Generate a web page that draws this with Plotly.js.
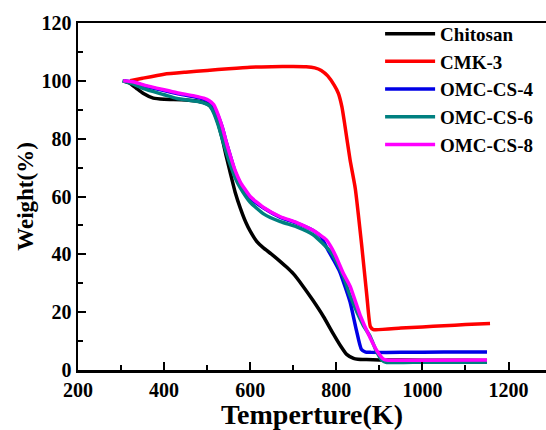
<!DOCTYPE html>
<html>
<head>
<meta charset="utf-8">
<script src="https://cdn.plot.ly/plotly-3.0.1.min.js"></script>
<style>
html,body{margin:0;padding:0;background:#fff;}
#chart{width:546px;height:430px;}
</style>
</head>
<body>
<div id="chart"></div>
<script>
// Temperature (K) and weight (%)
var chitosanT = [305,320,335,352,375,400,450,490,505,515,525,535,545,554,565,577,590,600,615,630,650,670,685,700,720,746,770,793,810,824,840,850,870,900,1000,1100,1150];
var chitosanW = [100,99.2,97.5,95.6,94.0,93.6,93.4,92.6,91.5,89.5,85.5,80,73.5,68,61.5,56,51,48,44.5,42.3,40,37.5,35.5,33.3,29.5,24,18.5,12.5,8.3,5.4,4.0,3.7,3.6,3.5,3.4,3.4,3.3];

var cmk3T = [321,350,400,450,500,550,600,650,700,730,750,765,780,795,805,813,820,832,844,859,871,879,886,950,1000,1050,1100,1157];
var cmk3W = [100,100.9,102.3,103.0,103.6,104.2,104.7,104.9,105,104.9,104.5,103.6,101.7,98.5,95.6,91,84.5,72.6,62.8,43,25.5,15,14,14.5,14.9,15.3,15.7,16.1];

var omc4T = [305,330,352,400,430,470,492,505,515,525,535,545,555,565,577,600,631,670,708,747,765,777,792,808,820,832,847,858,868,880,950,1050,1150];
var omc4W = [100,99.5,98.4,96.6,95.6,94.5,93.7,92.8,91.2,88,84,78.5,73.5,68.5,64.5,59.5,56,52.8,50.8,48.2,46,42.5,38.5,34,29,23.5,13.5,7.2,6.2,6.1,6.1,6.2,6.2];

var omc6T = [303,330,352,400,430,484,505,515,525,535,545,555,565,577,600,631,670,708,747,786,800,816,832,862,879,893,906,915,1000,1150];
var omc6W = [100,98.8,97.3,95.2,93.9,92.7,91.5,89,85,80,75,70.5,66.5,63,58,54,51.3,49.5,46.7,41,37.5,32.5,25.7,15.6,11.5,6.5,3.4,2.7,2.7,2.7];

var omc8T = [305,330,352,400,430,470,492,505,515,525,535,545,555,565,577,600,631,670,708,747,777,790,800,816,832,855,879,895,910,920,1000,1150];
var omc8W = [100,99.6,98.6,96.9,95.9,94.8,94,93.1,91.8,88.5,84,78.5,73.5,69,65,60,56.2,53,51,48.2,45,42,39,33.5,29,19.1,11,6.5,3.7,3.4,3.4,3.5];

var seriesNames = ['Chitosan','CMK-3','OMC-CS-4','OMC-CS-6','OMC-CS-8'];
var seriesColors = ['#000000','#ff0000','#0000e6','#008080','#ff00ff'];
var xTickVals = [200,400,600,800,1000,1200];
var yTickVals = [0,20,40,60,80,100,120];

var xs = [chitosanT, cmk3T, omc4T, omc6T, omc8T];
var ys = [chitosanW, cmk3W, omc4W, omc6W, omc8W];

var traces = seriesNames.map(function(n,i){
  return {
    x: xs[i], y: ys[i], name: n, type: 'scatter', mode: 'lines',
    line: {color: seriesColors[i], width: 3.5, shape: 'spline', smoothing: 0.5}
  };
});

var serif = 'Liberation Serif, Times New Roman, serif';

var layout = {
  width: 546, height: 430,
  margin: {l: 78, r: 0, t: 23, b: 60},
  paper_bgcolor: '#ffffff', plot_bgcolor: '#ffffff',
  showlegend: true,
  legend: {
    x: 0.6455, y: 1.0236, xanchor: 'left', yanchor: 'top',
    bgcolor: 'rgba(0,0,0,0)', borderwidth: 0,
    itemwidth: 50, tracegroupgap: 0,
    font: {family: serif, size: 19, color: '#000', weight: 'bold'}
  },
  xaxis: {
    range: [200, 1287], tickvals: xTickVals, ticktext: xTickVals.map(String),
    showgrid: false, zeroline: false,
    showline: true, linecolor: '#000', linewidth: 2.5, mirror: true,
    ticks: 'inside', ticklen: 8, tickwidth: 2, tickcolor: '#000',
    minor: {dtick: 100, ticks: 'inside', ticklen: 5, tickwidth: 2, tickcolor: '#000', showgrid: false},
    tickfont: {family: serif, size: 20, color: '#000', weight: 'bold'},
    title: {text: 'Temperture(K)', font: {family: serif, size: 28, color: '#000', weight: 'bold'}, standoff: 17},
    automargin: false
  },
  yaxis: {
    range: [0, 120], tickvals: yTickVals, ticktext: yTickVals.map(String),
    showgrid: false, zeroline: false,
    showline: true, linecolor: '#000', linewidth: 2.5, mirror: false,
    ticks: 'inside', ticklen: 8, tickwidth: 2, tickcolor: '#000',
    minor: {dtick: 10, ticks: 'inside', ticklen: 5, tickwidth: 2, tickcolor: '#000', showgrid: false},
    tickfont: {family: serif, size: 20, color: '#000', weight: 'bold'},
    title: {text: 'Weight(%)', font: {family: serif, size: 23, color: '#000', weight: 'bold'}, standoff: 2},
    automargin: false
  }
};

Plotly.newPlot('chart', traces, layout, {displayModeBar: false, staticPlot: true});
</script>
</body>
</html>
